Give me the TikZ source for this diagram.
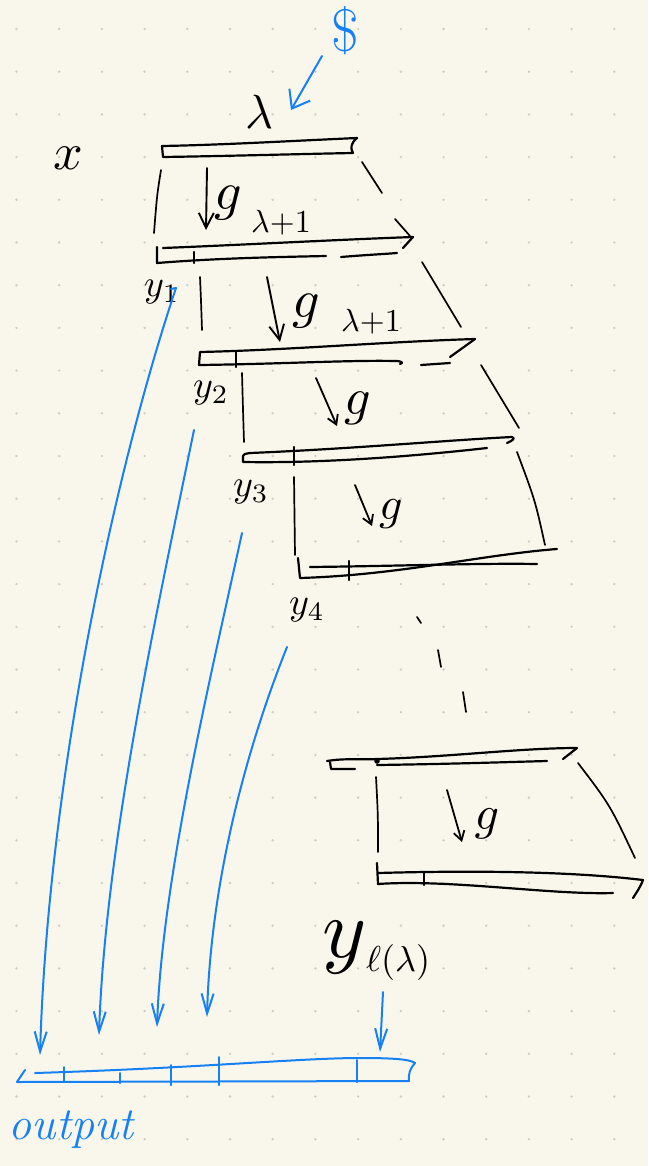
\documentclass[tikz,border=0pt]{standalone}
\usetikzlibrary{arrows.meta}
\usepackage{graphicx}
\definecolor{paper}{RGB}{249,247,236}
\definecolor{dotc}{RGB}{204,204,198}
\definecolor{penblue}{RGB}{22,128,245}
\newcommand\skm[2]{\scalebox{#1}{$#2$}}
\begin{document}
\begin{tikzpicture}[x=1pt,y=-1pt,
  ink/.style={draw=black,line width=2.2pt,line cap=round,line join=round},
  side/.style={draw=black,line width=1.7pt,line cap=round,line join=round},
  blueink/.style={draw=penblue,line width=2pt,line cap=round,line join=round},
  garrow/.style={side,line width=1.9pt,-{Straight Barb[length=15pt,width=15pt]}},
  gsmall/.style={side,line width=1.8pt,-{Straight Barb[length=9pt,width=11pt]}},
  barrow/.style={blueink,-{Straight Barb[length=20pt,width=12pt]}},
  lbl/.style={inner sep=0pt,outer sep=0pt},
]
\fill[paper] (0,0) rectangle (648,1166);
\useasboundingbox (0,0) rectangle (648,1166);
\foreach \i in {0,...,14}{\foreach \j in {0,...,26}{\fill[dotc] ({16.5+42.7*\i},{29+42.7*\j}) circle (1.3);}}

% ---- seed arrow
\node[lbl,text=penblue,font=\fontsize{60}{60}\selectfont] (dollar) at (345,31) {\$};
\coordinate (ds) at (322,56);
\coordinate (de) at (291,110);
\draw[blueink,-{Straight Barb[length=16pt,width=24pt]}] (ds) -- (de);

% ---- labels
\node[lbl] (lam) at (259,112) {\skm{4.8}{\lambda}};
\node[lbl] (xlab) at (68,158) {\skm{5.2}{x}};
\node[lbl] (lp1) at (281,223) {\skm{3.2}{\lambda{+}1}};
\node[lbl] (lp2) at (371,322) {\skm{3.2}{\lambda{+}1}};

% ---- bar 1
\draw[ink] (357,138) .. controls (290,141) and (220,145) .. (162,146) -- (163,157)
  .. controls (230,156) and (300,154) .. (353,153) .. controls (350,148) and (351,143) .. (357,138);
% sides 1
\draw[side] (161,170) .. controls (157,195) .. (154,233);
\draw[side] (362,162) -- (382,193);
\draw[side] (395,219) -- (410,236);
% g1
\coordinate (g1s) at (207,168); \coordinate (g1e) at (206,230);
\draw[garrow] (g1s) -- (g1e);
\node[lbl] (g1) at (228,203) {\skm{5.4}{g}};

% ---- bar 2
\draw[ink] (413,237) .. controls (330,240) and (240,245) .. (163,248);
\draw[ink] (157,247) -- (157,263) .. controls (220,258) and (280,257) .. (326,256);
\draw[ink] (341,257) .. controls (365,255) and (385,254) .. (397,253);
\draw[ink] (413,237) -- (403,248);
\draw[ink] (194,252) -- (194,263);
\node[lbl] (y1) at (162,292) {\skm{3.8}{y_1}};
% sides 2
\draw[side] (200,277) .. controls (201,300) .. (202,330);
\draw[side] (422,262) -- (461,327);
% g2
\coordinate (g2s) at (267,277); \coordinate (g2e) at (280,342);
\draw[garrow] (g2s) -- (g2e);
\node[lbl] (g2) at (306,311) {\skm{5.4}{g}};

% ---- bar 3
\draw[ink] (475,339) .. controls (380,342) and (290,350) .. (200,352) -- (199,365)
  .. controls (280,364) and (350,360) .. (395,361) .. controls (402,361) and (404,363) .. (400,364);
\draw[ink] (421,365) -- (450,363);
\draw[ink] (475,339) -- (450,357);
\draw[ink] (236,352) -- (236,367);
\node[lbl] (y2) at (211,393) {\skm{3.8}{y_2}};
% sides 3
\draw[side] (242,373) .. controls (243,410) .. (244,442);
\draw[side] (481,365) -- (519,428);
% g3
\coordinate (g3s) at (316,378); \coordinate (g3e) at (337,426);
\draw[gsmall] (g3s) -- (g3e);
\node[lbl] (g3) at (358,408) {\skm{5.2}{g}};

% ---- bar 4
\draw[ink] (250,453) .. controls (350,449) and (450,440) .. (512,437) .. controls (516,438) and (512,441) .. (507,443);
\draw[ink] (250,453) .. controls (244,454) .. (243,456) -- (243,462) .. controls (300,463) and (380,460) .. (487,448);
\draw[ink] (294,447) -- (294,465);
\node[lbl] (y3) at (251,492) {\skm{3.8}{y_3}};
% sides 4
\draw[side] (294,477) -- (295,555);
\draw[side] (517,452) .. controls (535,500) .. (545,545);
% g4
\coordinate (g4s) at (355,485); \coordinate (g4e) at (372,526);
\draw[gsmall] (g4s) -- (g4e);
\node[lbl] (g4) at (391,514) {\skm{4.6}{g}};

% ---- bar 5
\draw[ink] (298,558) -- (300,578) .. controls (400,575) and (480,555) .. (557,549);
\draw[ink] (310,567) .. controls (400,566) and (480,563) .. (537,564);
\draw[ink] (349,561) -- (349,580);
\node[lbl] (y4) at (307,610) {\skm{3.8}{y_4}};

% ---- continuation dashes
\draw[side] (417,617) -- (421,623);
\draw[side] (438,650) -- (441,667);
\draw[side] (463,692) -- (466,712);

% ---- bar 6
\draw[ink] (327,761) .. controls (345,758) and (360,760) .. (377,759) .. controls (450,757) and (520,748) .. (577,748) -- (563,759);
\draw[ink] (377,765) .. controls (450,764) and (510,762) .. (547,761);
\draw[ink] (330,762) -- (331,769) -- (355,769);
\fill (377,761) circle (2.8);
% sides 6
\draw[side] (376,777) .. controls (378,815) .. (378,852);
\draw[side] (578,763) .. controls (610,805) .. (635,858);
% g6
\coordinate (g6s) at (447,790); \coordinate (g6e) at (462,842);
\draw[gsmall] (g6s) -- (g6e);
\node[lbl] (g6) at (487,824) {\skm{4.8}{g}};

% ---- bar 7
\draw[ink] (377,863) -- (378,884) .. controls (450,879) and (550,895) .. (613,893);
\draw[ink] (378,873) .. controls (450,871) and (560,870) .. (643,880) .. controls (640,888) and (636,893) .. (633,898);
\draw[ink] (424,873) -- (424,885);

% ---- last label
\node[lbl,anchor=base west] (Y) at (322,957) {\skm{8.4}{y}\raisebox{-14pt}{\skm{3.6}{\ell(\lambda)}}};

% ---- output bar
\draw[blueink] (25,1070) -- (17,1082) -- (409,1081);
\draw[blueink] (35,1073) .. controls (200,1068) and (300,1058) .. (360,1058)
  .. controls (390,1058) and (410,1059) .. (415,1063) .. controls (410,1068) and (408,1075) .. (409,1081);
\coordinate (o1) at (40,1055);
\coordinate (o2) at (99,1035);
\coordinate (o3) at (157,1027);
\coordinate (o4) at (207,1017);
\coordinate (o5) at (380,1052);
\draw[blueink] (64,1067) -- (64,1082);
\draw[blueink] (120,1073) -- (120,1083);
\draw[blueink] (171,1065) -- (171,1085);
\draw[blueink] (219,1057) -- (219,1085);
\draw[blueink] (357,1060) -- (357,1082);
\node[lbl,anchor=base west,text=penblue,font=\itshape\fontsize{46}{46}\selectfont] (out) at (9,1139) {output};

% ---- blue connectors
\coordinate (s1) at (176,288);
\coordinate (s2) at (194,430);
\coordinate (s3) at (242,533);
\coordinate (s4) at (287,647);
\coordinate (s5) at (383,992);
\draw[blueink] (171,289) -- (s1);
\draw[barrow] (s1) .. controls (115,470) and (48,780) .. (o1);
\draw[barrow] (s2) .. controls (155,620) and (105,850) .. (o2);
\draw[barrow] (s3) .. controls (210,680) and (162,880) .. (o3);
\draw[barrow] (s4) .. controls (238,770) and (210,900) .. (o4);
\draw[barrow] (s5) -- (o5);
\end{tikzpicture}
\end{document}
